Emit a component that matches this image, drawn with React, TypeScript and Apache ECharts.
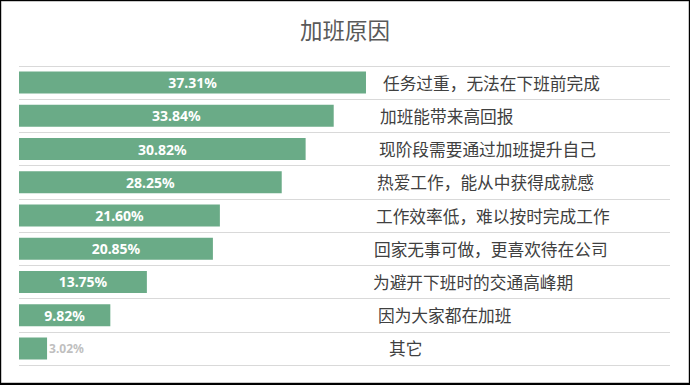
import React, { useEffect, useRef } from "react";
import * as echarts from "echarts";

const title = "加班原因";
const categories = [
  "任务过重，无法在下班前完成",
  "加班能带来高回报",
  "现阶段需要通过加班提升自己",
  "热爱工作，能从中获得成就感",
  "工作效率低，难以按时完成工作",
  "回家无事可做，更喜欢待在公司",
  "为避开下班时的交通高峰期",
  "因为大家都在加班",
  "其它",
];
const values = [37.31, 33.84, 30.82, 28.25, 21.6, 20.85, 13.75, 9.82, 3.02];
const labelOffsets = [5, 2, 1, -1, -2, -4, -5, 0, 11];

export default function App() {
  const ref = useRef<HTMLDivElement>(null);
  useEffect(() => {
    document.body.style.margin = "0";
    const chart = echarts.init(ref.current!, null, { renderer: "svg" });
    const font = "'Noto Sans CJK SC', 'Noto Sans', sans-serif";
    chart.setOption({
      animation: false,
      backgroundColor: "#fff",
      title: {
        text: title,
        left: "center",
        top: 13,
        textStyle: { fontSize: 22.5, fontWeight: "normal", color: "#595959", fontFamily: font },
      },
      graphic: [
        { type: "rect", z: -10, shape: { x: 0, y: 0, width: 690, height: 385 }, style: { fill: "#000" }, silent: true },
        { type: "rect", z: -9, shape: { x: 1.5, y: 1.5, width: 687, height: 381 }, style: { fill: "#fff", stroke: "#c8c8c8", lineWidth: 1 }, silent: true },
      ],
      grid: { left: 19, right: 20, top: 66, bottom: 20, containLabel: false },
      xAxis: { type: "value", min: 0, max: 70, show: false },
      yAxis: {
        type: "category",
        inverse: true,
        data: categories.map((c, i) => ({
          value: c,
          textStyle: { padding: [0, 0, 0, labelOffsets[i]] },
        })),
        axisLine: { show: false },
        axisTick: { show: false },
        splitLine: { show: true, lineStyle: { color: "#d9d9d9", width: 1 } },
        axisLabel: {
          inside: true,
          margin: 359,
          align: "left",
          fontSize: 16.7,
          color: "#404040",
          fontFamily: font,
        },
      },
      series: [
        {
          type: "bar",
          data: values.map((v, i) => ({
            value: v,
            label:
              i === values.length - 1
                ? { position: "right", distance: 2, color: "#bfbfbf", fontSize: 12 }
                : undefined,
          })),
          barWidth: 22,
          itemStyle: { color: "#6aab87" },
          label: {
            show: true,
            position: "inside",
            formatter: (p: any) => p.value.toFixed(2) + "%",
            color: "#fff",
            fontWeight: "bold",
            fontSize: 14,
            fontFamily: "'Noto Sans', sans-serif",
          },
        },
      ],
    });
    return () => chart.dispose();
  }, []);
  return <div ref={ref} style={{ width: 690, height: 385 }} />;
}
